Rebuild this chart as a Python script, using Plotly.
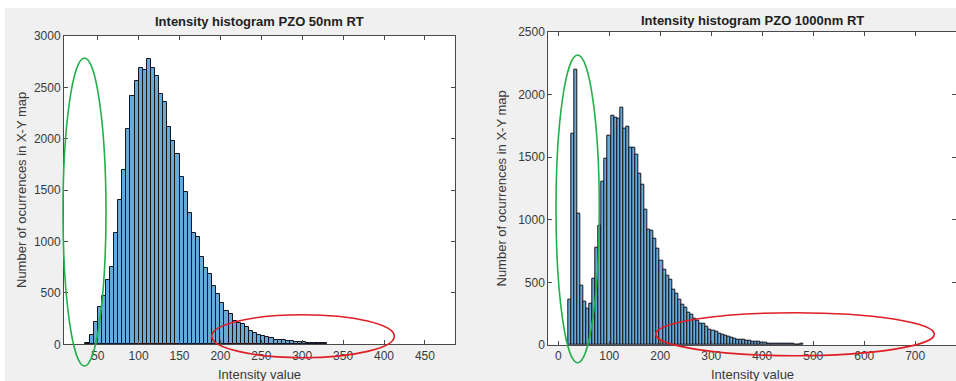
import numpy as np
import plotly.graph_objects as go

# ---------------- data ----------------
left_title = "Intensity histogram PZO 50nm RT"
right_title = "Intensity histogram PZO 1000nm RT"
x_label = "Intensity value"
y_label = "Number of ocurrences in X-Y map"

left_bin_start = 35
left_bin_width = 5
left_counts = [15, 88, 218, 364, 468, 623, 753, 1084, 1403, 1700,
               2092, 2417, 2558, 2685, 2670, 2775, 2685, 2607, 2436, 2356,
               2110, 1980, 1850, 1630, 1480, 1276, 1081, 1042, 854, 740,
               685, 571, 490, 399, 328, 295, 227, 205, 195, 166,
               130, 107, 91, 84, 68, 65, 42, 42, 45, 36,
               32, 26, 26, 19, 16, 16, 13, 16, 8]

right_bin_start = 19
right_bin_width = 6
right_counts = [359, 1690, 2195, 1051, 476, 342, 290, 333, 532, 777,
                950, 1300, 1490, 1668, 1830, 1817, 1805, 1895, 1725, 1738,
                1578, 1575, 1516, 1370, 1277, 1077, 923, 912, 851, 772,
                675, 604, 551, 524, 439, 412, 359, 319, 301, 258,
                239, 213, 192, 173, 173, 146, 120, 114, 106, 93,
                80, 72, 66, 58, 48, 40, 45, 40, 35, 32,
                27, 27, 24, 21, 19, 13, 13, 13, 11, 8,
                11, 13, 8, 8, 5, 5, 8]

left_xticks = [50, 100, 150, 200, 250, 300, 350, 400, 450]
left_yticks = [0, 500, 1000, 1500, 2000, 2500, 3000]
right_xticks = [0, 100, 200, 300, 400, 500, 600, 700]
right_yticks = [0, 500, 1000, 1500, 2000, 2500]

# ---------------- figure ----------------
W, H = 956, 381
FACE = "rgb(102,170,215)"
EDGE = "rgb(20,20,30)"
AXC = "#4a4a4a"
TXT = "#3a3a3a"
FONT = "Liberation Sans, Arial, sans-serif"

def centers(start, width, n):
    return start + width * (np.arange(n) + 0.5)

fig = go.Figure()
fig.add_trace(go.Bar(
    x=centers(left_bin_start, left_bin_width, len(left_counts)),
    y=left_counts, width=left_bin_width,
    marker=dict(color=FACE, line=dict(color=EDGE, width=1)),
    xaxis="x", yaxis="y", showlegend=False))
fig.add_trace(go.Bar(
    x=centers(right_bin_start, right_bin_width, len(right_counts)),
    y=right_counts, width=right_bin_width,
    marker=dict(color=FACE, line=dict(color=EDGE, width=1)),
    xaxis="x2", yaxis="y2", showlegend=False))

def px(x):
    return x / W

def py(y):
    return 1 - y / H

axis_common = dict(showline=True, linecolor=AXC, linewidth=1, mirror="ticks",
                   ticks="inside", ticklen=4, tickcolor=AXC, showgrid=False,
                   zeroline=False, automargin=False,
                   tickfont=dict(family=FONT, size=12, color=TXT))

fig.update_layout(
    width=W, height=H, autosize=False,
    margin=dict(l=0, r=0, t=0, b=0, pad=0, autoexpand=False),
    paper_bgcolor="#f0f0f0", plot_bgcolor="white",
    bargap=0,
    font=dict(family=FONT, color=TXT),
    xaxis=dict(domain=[px(64), px(455)], range=[8.8, 486.8], tickvals=left_xticks,
               anchor="y", **axis_common),
    yaxis=dict(domain=[py(344.3), py(36)], range=[0, 3000], tickvals=left_yticks,
               anchor="x", **axis_common),
    xaxis2=dict(domain=[px(548.3), 1.0], range=[-19.6, 780], tickvals=right_xticks,
                anchor="y2", **axis_common),
    yaxis2=dict(domain=[py(345), py(31.7)], range=[0, 2500], tickvals=right_yticks,
                anchor="x2", **axis_common),
)

annots = [
    dict(text="<b>%s</b>" % left_title, x=px(259.5), y=py(22), font=dict(size=13, color="#1e1e1e")),
    dict(text="<b>%s</b>" % right_title, x=px(752), y=py(20), font=dict(size=13, color="#1e1e1e")),
    dict(text=x_label, x=px(259.5), y=py(374), font=dict(size=13, color=TXT)),
    dict(text=x_label, x=px(752), y=py(374), font=dict(size=13, color=TXT)),
    dict(text=y_label, x=px(21), y=py(190), textangle=-90, font=dict(size=13, color=TXT)),
    dict(text=y_label, x=px(501.5), y=py(188), textangle=-90, font=dict(size=13, color=TXT)),
]
for a in annots:
    a.update(xref="paper", yref="paper", showarrow=False, xanchor="center", yanchor="middle")
    a["font"]["family"] = FONT
fig.update_layout(annotations=annots)

shapes = [
    # white strips at image edges
    dict(type="rect", xref="paper", yref="paper", x0=0, x1=1, y0=py(8), y1=1,
         fillcolor="white", line=dict(width=0), layer="below"),
    dict(type="rect", xref="paper", yref="paper", x0=0, x1=px(5), y0=0, y1=1,
         fillcolor="white", line=dict(width=0), layer="below"),
    # highlight ellipses
    dict(type="circle", xref="paper", yref="paper", x0=px(63), x1=px(106),
         y0=py(366), y1=py(58), line=dict(color="#22b04a", width=1.6)),
    dict(type="circle", xref="paper", yref="paper", x0=px(211.7), x1=px(394.3),
         y0=py(357.7), y1=py(314.7), line=dict(color="#e01e25", width=1.6)),
    dict(type="circle", xref="paper", yref="paper", x0=px(556), x1=px(599.3),
         y0=py(362.7), y1=py(55), line=dict(color="#22b04a", width=1.6)),
    dict(type="circle", xref="paper", yref="paper", x0=px(655.7), x1=px(934.3),
         y0=py(355.7), y1=py(312.7), line=dict(color="#e01e25", width=1.6)),
]
fig.update_layout(shapes=shapes)

fig.write_html("out.html", config={"displayModeBar": False},
               post_script="document.body.style.margin='0';document.body.style.overflow='hidden';")
